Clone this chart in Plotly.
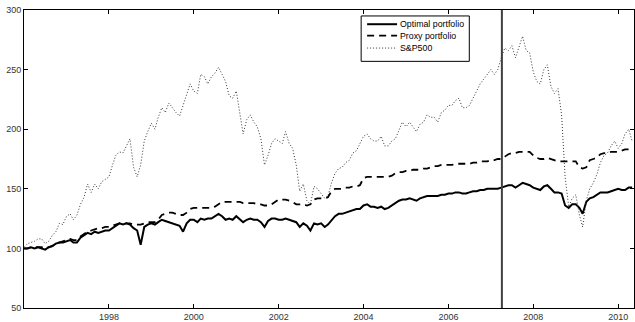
import pandas as pd
import plotly.graph_objects as go

# Monthly readings, Jan 1996 .. May 2010
sp500 = [
    101, 104, 105, 106, 108, 108, 104, 106, 111, 114, 121, 120,   # 1996
    127, 129, 124, 128, 137, 143, 154, 147, 154, 150, 156, 158,   # 1997
    160, 170, 178, 181, 180, 186, 192, 168, 160, 170, 190, 198,   # 1998
    205, 200, 210, 218, 214, 222, 218, 214, 211, 220, 230, 238,   # 1999
    232, 230, 246, 244, 238, 244, 247, 252, 246, 240, 228, 226,   # 2000
    232, 214, 196, 208, 212, 206, 202, 192, 170, 178, 188, 192,   # 2001
    190, 188, 198, 188, 184, 170, 148, 154, 140, 137, 152, 150,   # 2002
    146, 142, 144, 155, 163, 167, 168, 172, 174, 180, 182, 188,   # 2003
    194, 196, 192, 190, 190, 194, 186, 186, 190, 192, 200, 206,   # 2004
    202, 206, 202, 198, 204, 206, 212, 210, 210, 206, 214, 216,   # 2005
    220, 220, 224, 226, 218, 218, 220, 226, 232, 238, 242, 246,   # 2006
    250, 246, 250, 260, 268, 266, 270, 260, 270, 278, 266, 264,   # 2007
    248, 240, 238, 250, 254, 236, 230, 234, 212, 160, 135, 142,   # 2008
    145, 128, 118, 140, 150, 155, 162, 172, 178, 180, 186, 190,   # 2009
    184, 188, 196, 200, 190,                                      # 2010
]

optimal = [
    100, 100, 101, 100, 101, 100,  99, 101, 102, 104, 105, 105,   # 1996
    106, 107, 105, 105, 109, 111, 113, 112, 114, 113, 114, 115,   # 1997
    115, 117, 119, 121, 120, 121, 120, 117, 115, 103, 118, 120,   # 1998
    121, 120, 122, 124, 123, 122, 121, 120, 119, 114, 121, 124,   # 1999
    124, 122, 125, 124, 125, 125, 127, 129, 127, 124, 125, 124,   # 2000
    127, 124, 122, 124, 125, 124, 124, 122, 118, 123, 125, 125,   # 2001
    124, 124, 125, 124, 123, 122, 118, 121, 119, 115, 121, 120,   # 2002
    121, 118, 120, 124, 127, 129, 129, 130, 131, 132, 133, 133,   # 2003
    136, 137, 135, 135, 134, 135, 133, 134, 136, 138, 140, 141,   # 2004
    141, 142, 141, 140, 142, 143, 144, 144, 144, 144, 145, 145,   # 2005
    146, 146, 147, 147, 146, 146, 147, 148, 148, 149, 149, 150,   # 2006
    150, 150, 150, 151, 152, 153, 153, 151, 153, 155, 154, 153,   # 2007
    151, 150, 149, 152, 153, 150, 147, 147, 146, 136, 134, 137,   # 2008
    137, 134, 129, 139, 142, 143, 145, 147, 147, 147, 148, 149,   # 2009
    150, 149, 149, 151, 151,                                      # 2010
]

proxy = [
    100, 100, 101, 101, 101, 101, 100, 101, 102, 104, 105, 106,   # 1996
    107, 108, 107, 107, 110, 112, 114, 115, 116, 117, 117, 118,   # 1997
    118, 119, 120, 121, 121, 121, 121, 120, 120, 120, 121, 122,   # 1998
    122, 122, 124, 128, 129, 130, 130, 129, 128, 128, 130, 133,   # 1999
    134, 134, 134, 134, 134, 134, 135, 137, 139, 139, 139, 139,   # 2000
    139, 139, 138, 138, 138, 138, 137, 137, 136, 136, 137, 139,   # 2001
    141, 141, 141, 140, 139, 137, 137, 137, 136, 137, 141, 142,   # 2002
    142, 142, 143, 148, 150, 150, 150, 151, 151, 152, 152, 153,   # 2003
    159, 160, 160, 160, 160, 160, 160, 160, 161, 163, 164, 164,   # 2004
    165, 165, 166, 166, 166, 167, 167, 168, 169, 169, 170, 170,   # 2005
    170, 170, 171, 171, 171, 171, 171, 172, 172, 173, 173, 173,   # 2006
    174, 174, 175, 175, 177, 179, 180, 180, 181, 181, 181, 181,   # 2007
    178, 176, 175, 175, 176, 175, 174, 173, 173, 173, 173, 173,   # 2008
    173, 168, 167, 168, 174, 175, 176, 179, 180, 180, 181, 181,   # 2009
    181, 182, 183, 183, 183,                                      # 2010
]

series_names = ["Optimal portfolio", "Proxy portfolio", "S&P500"]
dates = pd.date_range("1996-01-01", periods=len(sp500), freq="MS")
split_date = "2007-04-06"
x_ticks = ["1998-01-01", "2000-01-01", "2002-01-01", "2004-01-01",
           "2006-01-01", "2008-01-01", "2010-01-01"]
x_tick_labels = ["1998", "2000", "2002", "2004", "2006", "2008", "2010"]
y_ticks = [50, 100, 150, 200, 250, 300]

font_family = "Liberation Sans, Arial, sans-serif"
styles = [
    dict(color="black", width=2),
    dict(color="black", width=1.8, dash="7px,5px"),
    dict(color="#333333", width=1, dash="1px,2px"),
]

fig = go.Figure()
for name, vals, st in zip(series_names, [optimal, proxy, sp500], styles):
    fig.add_trace(go.Scatter(x=dates, y=vals, mode="lines", name=name,
                             line=st, showlegend=False))

fig.add_shape(type="line", xref="x", yref="paper", x0=split_date, x1=split_date,
              y0=0, y1=1, line=dict(color="#404040", width=2))

# Hand-built compact legend (paper coordinates)
fig.add_shape(type="rect", xref="paper", yref="paper",
              x0=0.5527, x1=0.730, y0=0.8277, y1=0.980,
              line=dict(color="black", width=1), fillcolor="white", layer="above")
legend_y = [0.9523, 0.9137, 0.8723]
for name, st, ly in zip(series_names, styles, legend_y):
    fig.add_shape(type="line", xref="paper", yref="paper",
                  x0=0.5625, x1=0.6116, y0=ly, y1=ly, line=st, layer="above")
    fig.add_annotation(xref="paper", yref="paper", x=0.6137, y=ly, text=name,
                       showarrow=False, xanchor="left", yanchor="middle",
                       font=dict(size=8.8, color="black", family=font_family))

axis_common = dict(showline=True, linecolor="black", linewidth=1, mirror="ticks",
                   ticks="inside", ticklen=4, tickcolor="black", showgrid=False,
                   zeroline=False, tickfont=dict(size=9, color="#333333", family=font_family))

fig.update_xaxes(range=["1996-01-01", "2010-05-17"], tickvals=x_ticks,
                 ticktext=x_tick_labels, **axis_common)
fig.update_yaxes(range=[50, 300], tickvals=y_ticks, **axis_common)

fig.update_layout(
    width=635, height=322,
    margin=dict(l=24, r=0, t=10, b=12),
    plot_bgcolor="white", paper_bgcolor="white",
    font=dict(family=font_family, size=9, color="black"),
    showlegend=False,
)

fig.write_html("out.html")
